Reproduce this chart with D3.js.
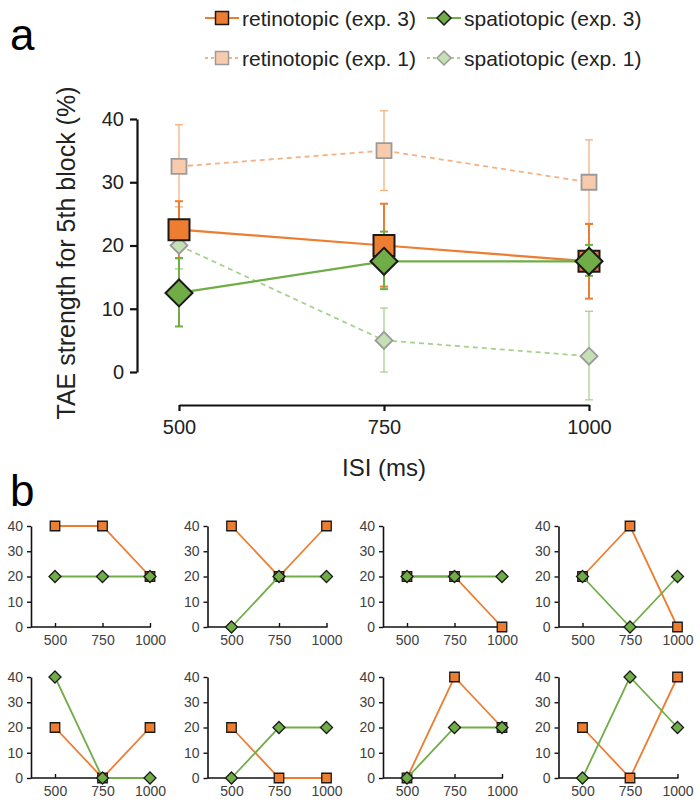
<!DOCTYPE html>
<html>
<head>
<meta charset="utf-8">
<script src="https://cdn.jsdelivr.net/npm/d3@7"></script>
<style>
  body { margin: 0; background: #fff; }
  svg { display: block; font-family: "Liberation Sans", Arial, sans-serif; }
</style>
</head>
<body>
<div id="chart"></div>
<script>
// ---- data ----
const isi = [500, 750, 1000];
const yTicks = [0, 10, 20, 30, 40];

// panel a: means and error bar ends
const retExp3 = [22.5, 20, 17.5];
const retExp3Hi = [27, 26.6, 23.4];
const retExp3Lo = [18, 13.5, 11.6];

const spaExp3 = [12.5, 17.5, 17.5];
const spaExp3Hi = [18, 22.2, 20.1];
const spaExp3Lo = [7.2, 13.1, 15.2];

const retExp1 = [32.5, 35, 30];
const retExp1Hi = [39.1, 41.3, 36.7];
const retExp1Lo = [26.1, 28.7, 23.5];

const spaExp1 = [20, 5, 2.5];
const spaExp1Hi = [24, 10.1, 9.6];
const spaExp1Lo = [16.3, 0, -4.4];

const legendLabels = ["retinotopic (exp. 3)", "spatiotopic (exp. 3)", "retinotopic (exp. 1)", "spatiotopic (exp. 1)"];

// panel b: single subjects (retinotopic, spatiotopic)
const subjRet = [
    [40, 40, 20], [40, 20, 40], [20, 20, 0], [20, 40, 0],
    [20, 0, 20], [20, 0, 0], [0, 40, 20], [20, 0, 40]
];
const subjSpa = [
    [20, 20, 20], [0, 20, 20], [20, 20, 20], [20, 0, 20],
    [40, 0, 0], [0, 20, 20], [0, 20, 20], [0, 40, 20]
];

// ---- colours ----
const orange = "#ED7D31", green = "#70AD47";
const orangeLight = "#F4B183", greenLight = "#A9D18E";
const orangeFill = "#F8CBAD", greenFill = "#C5E0B4";

const width = 700, height = 804;

const svg = d3.select("#chart").append("svg")
    .attr("width", width)
    .attr("height", height);

const diamond = s => `M0,${-s / 2}L${s / 2},0L0,${s / 2}L${-s / 2},0Z`;
const sq = s => `M${-s / 2},${-s / 2}h${s}v${s}h${-s}Z`;
const fmt = d3.format("d");

// ---- panel a ----
const x = d3.scaleLinear().domain([500, 1000]).range([179, 589]);
const y = d3.scaleLinear().domain([0, 40]).range([372, 119]);

svg.append("text").attr("x", 10).attr("y", 50)
    .attr("font-size", 44).text("a");

const yAxis = svg.append("g")
    .attr("transform", "translate(137,0)")
    .call(d3.axisLeft(y).tickValues(yTicks).tickSize(7).tickSizeOuter(0).tickPadding(6));
yAxis.selectAll("text").attr("font-size", 20).attr("fill", "#222");

const xAxis = svg.append("g")
    .attr("transform", "translate(0,405)")
    .call(d3.axisBottom(x).tickValues(isi).tickFormat(fmt).tickSize(6).tickSizeOuter(0).tickPadding(9));
xAxis.selectAll("text").attr("font-size", 20).attr("fill", "#222");

[yAxis, xAxis].forEach(g => {
    g.select(".domain").attr("stroke", "#111").attr("stroke-width", 2.2);
    g.selectAll(".tick line").attr("stroke", "#111").attr("stroke-width", 2.2);
});

svg.append("text")
    .attr("transform", "translate(75,253) rotate(-90)")
    .attr("text-anchor", "middle")
    .attr("font-size", 25)
    .attr("fill", "#222")
    .text("TAE strength for 5th block (%)");

svg.append("text")
    .attr("x", 384).attr("y", 476)
    .attr("text-anchor", "middle")
    .attr("font-size", 24)
    .attr("fill", "#222")
    .text("ISI (ms)");

const seriesA = [
    { vals: retExp1, hi: retExp1Hi, lo: retExp1Lo, line: orangeLight, err: orangeLight, fill: orangeFill, stroke: "#9a9a9a", shape: sq, size: 15, dash: "5,4", ew: 1.3 },
    { vals: spaExp1, hi: spaExp1Hi, lo: spaExp1Lo, line: greenLight, err: greenLight, fill: greenFill, stroke: "#9a9a9a", shape: diamond, size: 17, dash: "5,4", ew: 1.3 },
    { vals: retExp3, hi: retExp3Hi, lo: retExp3Lo, line: orange, err: orange, fill: orange, stroke: "#1a1a1a", shape: sq, size: 21, dash: null, ew: 2 },
    { vals: spaExp3, hi: spaExp3Hi, lo: spaExp3Lo, line: green, err: green, fill: green, stroke: "#1a1a1a", shape: diamond, size: 27, dash: null, ew: 2 }
];

// error bars first
seriesA.forEach(s => {
    const g = svg.append("g");
    isi.forEach((t, i) => {
        g.append("line")
            .attr("x1", x(t)).attr("x2", x(t))
            .attr("y1", y(s.hi[i])).attr("y2", y(s.lo[i]))
            .attr("stroke", s.err).attr("stroke-width", s.ew);
        [s.hi[i], s.lo[i]].forEach(v => {
            g.append("line")
                .attr("x1", x(t) - 4).attr("x2", x(t) + 4)
                .attr("y1", y(v)).attr("y2", y(v))
                .attr("stroke", s.err).attr("stroke-width", s.ew);
        });
    });
});

const lineA = d3.line().x((d, i) => x(isi[i])).y(d => y(d));

seriesA.forEach(s => {
    svg.append("path")
        .attr("d", lineA(s.vals))
        .attr("fill", "none")
        .attr("stroke", s.line)
        .attr("stroke-width", s.dash ? 1.8 : 2.2)
        .attr("stroke-dasharray", s.dash);
    svg.selectAll(null)
        .data(s.vals)
        .enter()
        .append("path")
        .attr("d", s.shape(s.size))
        .attr("transform", (d, i) => `translate(${x(isi[i])},${y(d)})`)
        .attr("fill", s.fill)
        .attr("stroke", s.stroke)
        .attr("stroke-width", s.dash ? 1.8 : 2);
});

// legend
const legendItems = [
    { x: 205, y: 18, line: orange, fill: orange, stroke: "#1a1a1a", shape: sq, size: 13, dash: null },
    { x: 427, y: 18, line: green, fill: green, stroke: "#1a1a1a", shape: diamond, size: 14, dash: null },
    { x: 205, y: 58, line: orangeLight, fill: orangeFill, stroke: "#9a9a9a", shape: sq, size: 13, dash: "3,3" },
    { x: 427, y: 58, line: greenLight, fill: greenFill, stroke: "#9a9a9a", shape: diamond, size: 14, dash: "3,3" }
];
legendItems.forEach((it, i) => {
    const g = svg.append("g").attr("transform", `translate(${it.x},${it.y})`);
    g.append("line").attr("x1", 0).attr("x2", 34).attr("y1", 0).attr("y2", 0)
        .attr("stroke", it.line).attr("stroke-width", 1.8)
        .attr("stroke-dasharray", it.dash);
    g.append("path").attr("d", it.shape(it.size))
        .attr("transform", "translate(17,0)")
        .attr("fill", it.fill).attr("stroke", it.stroke).attr("stroke-width", 1.5);
    g.append("text").attr("x", 37).attr("y", 7.5)
        .attr("font-size", 21).attr("fill", "#222")
        .text(legendLabels[i]);
});

// ---- panel b ----
svg.append("text").attr("x", 10).attr("y", 506)
    .attr("font-size", 44).text("b");

const colX = [31, 207.5, 383, 558.5];
const rowY0 = [627, 778];

subjRet.forEach((ret, k) => {
    const col = k % 4, row = Math.floor(k / 4);
    const ox = colX[col], oy = rowY0[row];
    const xs = d3.scaleLinear().domain([500, 1000]).range([ox + 24, ox + 119]);
    const ys = d3.scaleLinear().domain([0, 40]).range([oy, oy - 101]);
    const g = svg.append("g");

    const ya = g.append("g").attr("transform", `translate(${ox},0)`)
        .call(d3.axisLeft(ys).tickValues(yTicks).tickSize(4).tickSizeOuter(0).tickPadding(4));
    const xa = g.append("g").attr("transform", `translate(0,${oy})`)
        .call(d3.axisBottom(xs).tickValues(isi).tickFormat(fmt).tickSize(-4).tickSizeOuter(0).tickPadding(8));
    // x axis line starts at the y axis
    xa.select(".domain").attr("d", `M${ox},0H${xs(1000) + 1}`);
    [ya, xa].forEach(a => {
        a.select(".domain").attr("stroke", "#111").attr("stroke-width", 1.6);
        a.selectAll(".tick line").attr("stroke", "#111").attr("stroke-width", 1.4);
        a.selectAll("text").attr("font-size", 14).attr("fill", "#404040");
    });

    const ln = d3.line().x((d, i) => xs(isi[i])).y(d => ys(d));
    [[ret, orange, sq, 9.5], [subjSpa[k], green, diamond, 12]].forEach(([vals, c, shape, s]) => {
        g.append("path").attr("d", ln(vals)).attr("fill", "none")
            .attr("stroke", c).attr("stroke-width", 1.8);
        g.selectAll(null).data(vals).enter().append("path")
            .attr("d", shape(s))
            .attr("transform", (d, i) => `translate(${xs(isi[i])},${ys(d)})`)
            .attr("fill", c).attr("stroke", "#1a1a1a").attr("stroke-width", 1.3);
    });
});
</script>
</body>
</html>
